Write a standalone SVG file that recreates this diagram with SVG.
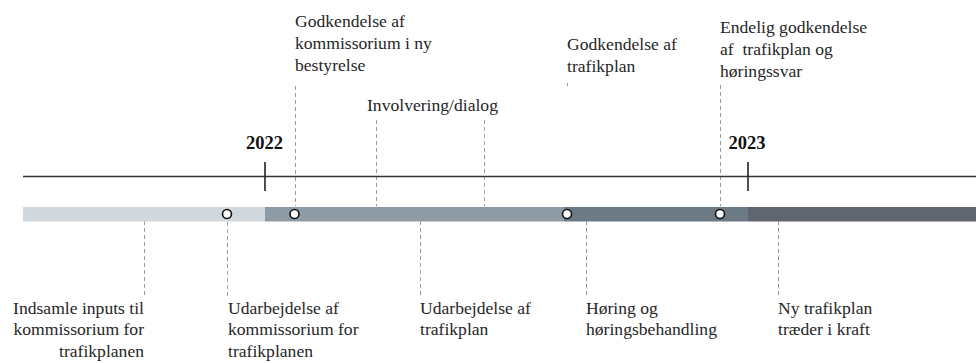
<svg xmlns="http://www.w3.org/2000/svg" width="976" height="363" viewBox="0 0 976 363">
<style>
.t{font-family:"Liberation Serif","Times New Roman",serif;font-size:17.6px;fill:#262626}
.y{font-family:"Liberation Serif","Times New Roman",serif;font-size:18.5px;font-weight:bold;fill:#111}
.d{stroke:#9a9a9a;stroke-width:1;stroke-dasharray:4 3;fill:none}
.c{fill:#fff;stroke:#111;stroke-width:1.6}
.r{text-anchor:end}
.p{white-space:pre}
</style>
<rect width="976" height="363" fill="#fff"/>
<g id="connectors">
<line class="d" x1="295.5" y1="86" x2="295.5" y2="206"/>
<line class="d" x1="376.5" y1="120" x2="376.5" y2="206"/>
<line class="d" x1="484.5" y1="120" x2="484.5" y2="206"/>
<line class="d" x1="567.5" y1="83" x2="567.5" y2="86"/>
<line class="d" x1="720.5" y1="85" x2="720.5" y2="206"/>
<line class="d" x1="144.5" y1="214" x2="144.5" y2="297"/>
<line class="d" x1="227.5" y1="222" x2="227.5" y2="297"/>
<line class="d" x1="420.5" y1="214" x2="420.5" y2="297"/>
<line class="d" x1="586.5" y1="214" x2="586.5" y2="297"/>
<line class="d" x1="778.5" y1="214" x2="778.5" y2="297"/>
</g>
<g id="axis">
<line x1="23" y1="176.5" x2="976" y2="176.5" stroke="#333" stroke-width="1.5"/>
<line x1="265" y1="162" x2="265" y2="191" stroke="#222" stroke-width="1.6"/>
<line x1="748" y1="162" x2="748" y2="191" stroke="#222" stroke-width="1.6"/>
<text class="y" x="264.5" y="149" text-anchor="middle">2022</text>
<text class="y" x="747" y="149" text-anchor="middle">2023</text>
</g>
<g id="bar">
<rect x="23" y="207" width="242" height="14.5" fill="#d0d7dd"/>
<rect x="265" y="207" width="299" height="14.5" fill="#8f9ba4"/>
<rect x="564" y="207" width="184" height="14.5" fill="#6c7a86"/>
<rect x="748" y="207" width="228" height="14.5" fill="#5f6670"/>
</g>
<g id="m1"><circle class="c" cx="227" cy="214" r="4.5"/></g>
<g id="m2"><circle class="c" cx="294.5" cy="214" r="4.5"/></g>
<g id="m3"><circle class="c" cx="567" cy="214" r="4.5"/></g>
<g id="m4"><circle class="c" cx="720" cy="214" r="4.5"/></g>
<g id="n-godk-komm"><text class="t" x="295" y="27">Godkendelse af<tspan x="295" y="49">kommissorium i ny</tspan><tspan x="295" y="71">bestyrelse</tspan></text></g>
<g id="n-involvering"><text class="t" x="367" y="111">Involvering/dialog</text></g>
<g id="n-godk-trafik"><text class="t" x="567" y="50">Godkendelse af<tspan x="567" y="72">trafikplan</tspan></text></g>
<g id="n-endelig"><text class="t" x="720" y="33">Endelig godkendelse<tspan class="p" x="720" y="55">af  trafikplan og</tspan><tspan x="720" y="77">høringssvar</tspan></text></g>
<g id="n-indsamle"><text class="t r" x="144" y="314">Indsamle inputs til<tspan x="144" y="335">kommissorium for</tspan><tspan x="144" y="357">trafikplanen</tspan></text></g>
<g id="n-udarb-komm"><text class="t" x="228" y="314">Udarbejdelse af<tspan x="228" y="335">kommissorium for</tspan><tspan x="228" y="357">trafikplanen</tspan></text></g>
<g id="n-udarb-trafik"><text class="t" x="420" y="314">Udarbejdelse af<tspan x="420" y="335">trafikplan</tspan></text></g>
<g id="n-horing"><text class="t" x="586" y="314">Høring og<tspan x="586" y="335">høringsbehandling</tspan></text></g>
<g id="n-ny"><text class="t" x="778" y="314">Ny trafikplan<tspan x="778" y="335">træder i kraft</tspan></text></g>
</svg>
